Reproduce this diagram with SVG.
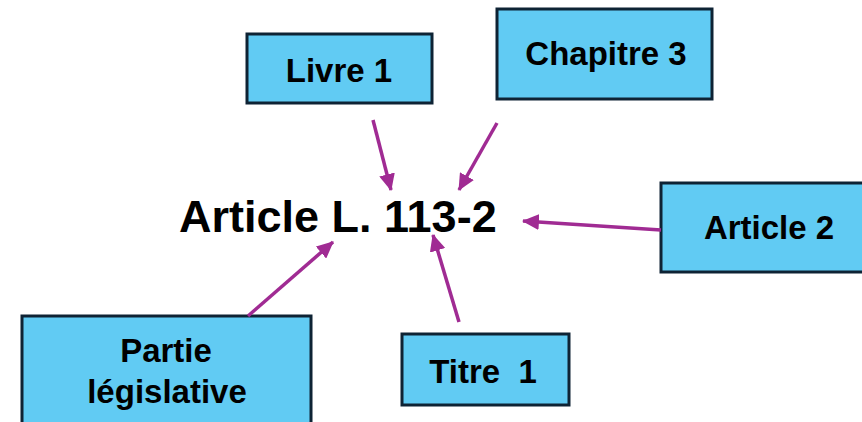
<svg xmlns="http://www.w3.org/2000/svg" width="862" height="422" viewBox="0 0 862 422">
<style>
.box{fill:#61cbf3;stroke:#0e2334;stroke-width:3}
.lbl{font-family:"Liberation Sans",Arial,sans-serif;font-weight:bold;font-size:33px;fill:#000;text-anchor:middle}
.main{font-family:"Liberation Sans",Arial,sans-serif;font-weight:bold;font-size:45px;fill:#000}
.arr{stroke:#a02b93;stroke-width:3.5;fill:none;marker-end:url(#ah)}
</style>
<defs>
<marker id="ah" markerUnits="userSpaceOnUse" markerWidth="18" markerHeight="16" refX="16" refY="8" orient="auto">
<path d="M0,0 L17,8 L0,16 Z" fill="#a02b93"/>
</marker>
</defs>
<rect width="862" height="422" fill="#fff"/>
<g id="main-node"><text class="main" x="179" y="232">Article L. 113-2</text></g>
<g id="livre1"><rect class="box" x="247" y="34" width="185" height="69"/><text class="lbl" x="339" y="82">Livre 1</text></g>
<g id="chapitre3"><rect class="box" x="497" y="9" width="215" height="90"/><text class="lbl" x="606" y="65">Chapitre 3</text></g>
<g id="article2"><rect class="box" x="661" y="183" width="210" height="89"/><text class="lbl" x="769" y="239">Article 2</text></g>
<g id="partie"><rect class="box" x="22" y="316" width="289" height="120"/><text class="lbl" x="166" y="362">Partie</text><text class="lbl" x="167" y="403">législative</text></g>
<g id="titre1"><rect class="box" x="402" y="334" width="167" height="71"/><text class="lbl" x="483" y="383" xml:space="preserve">Titre  1</text></g>
<g id="connectors">
<line class="arr" x1="373" y1="120" x2="391" y2="190"/>
<line class="arr" x1="497" y1="123" x2="459" y2="190"/>
<line class="arr" x1="661" y1="230" x2="523" y2="221"/>
<line class="arr" x1="248" y1="316" x2="333" y2="242"/>
<line class="arr" x1="459" y1="322" x2="433" y2="235"/>
</g>
</svg>
